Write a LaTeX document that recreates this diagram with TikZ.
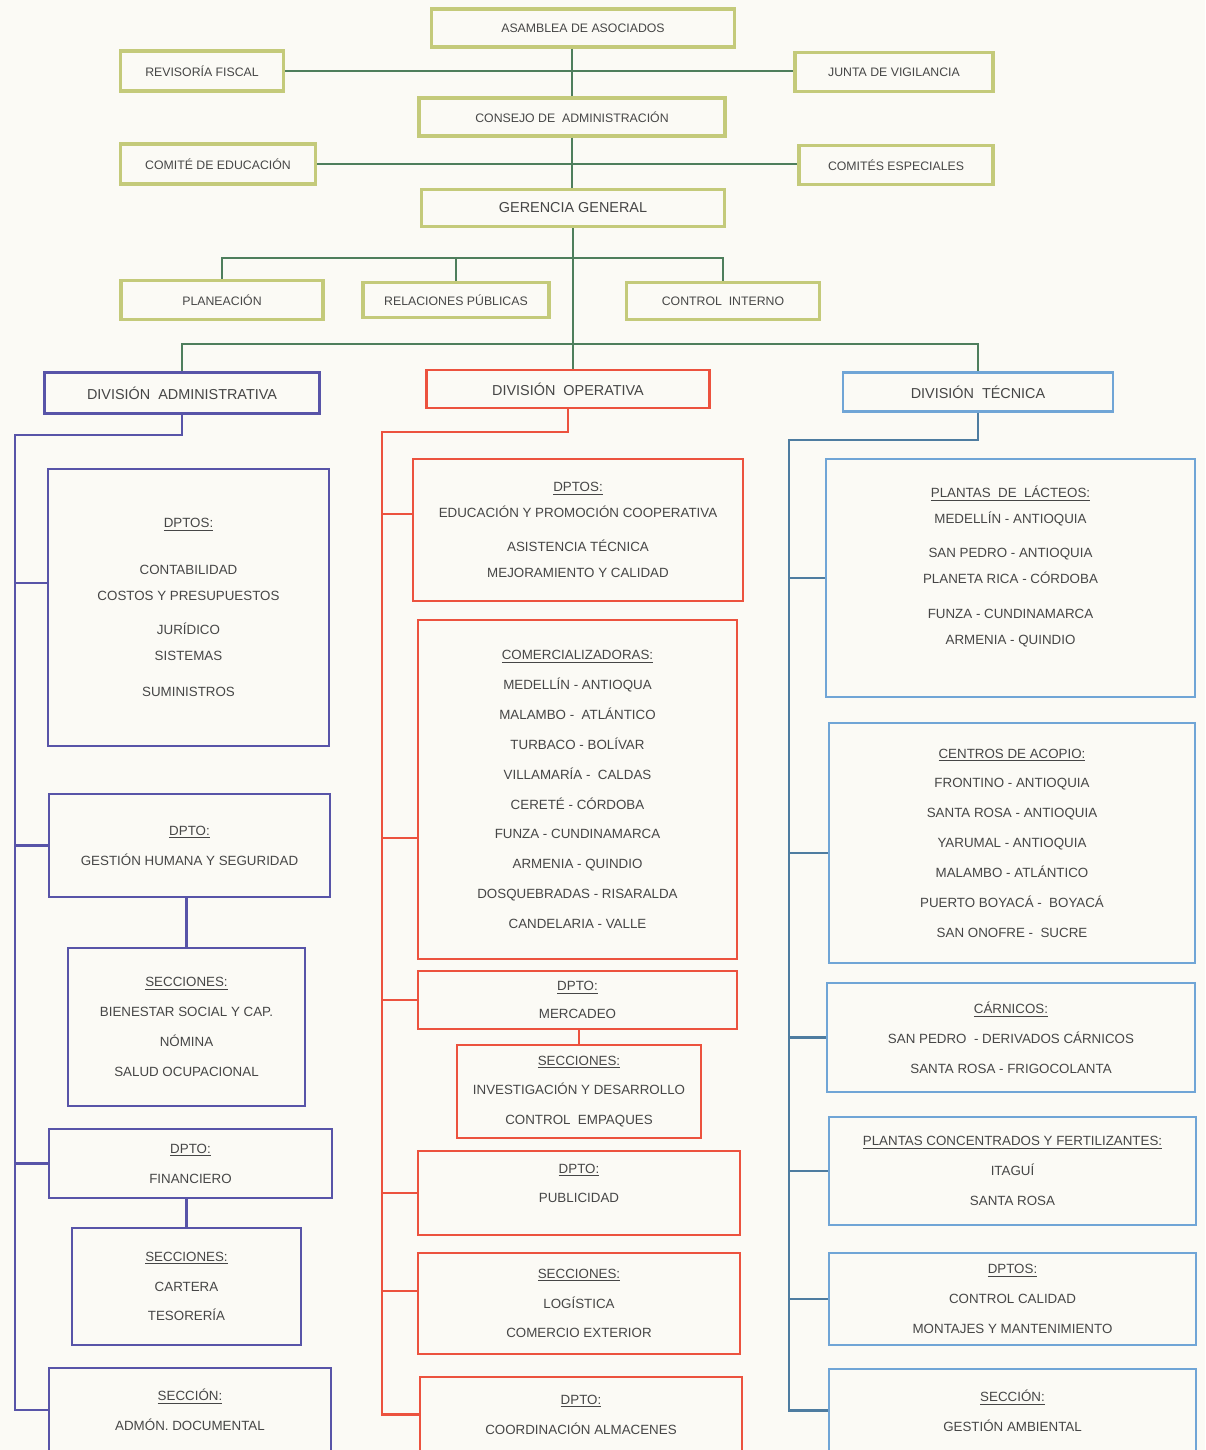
\documentclass[tikz,border=0pt]{standalone}
\usepackage{fontspec}
\setmainfont{Liberation Sans}
\usepackage{tikz}
\usepackage{xcolor}

\definecolor{cPaper}{RGB}{251,250,245}
\definecolor{cText}{RGB}{70,70,70}
\definecolor{cOlive}{RGB}{196,202,122}
\definecolor{cGreen}{RGB}{78,126,92}
\definecolor{cAdm}{RGB}{88,84,168}
\definecolor{cOp}{RGB}{236,82,62}
\definecolor{cTec}{RGB}{112,165,214}
\definecolor{cTecLine}{RGB}{78,124,160}

\begin{document}
\begin{tikzpicture}[x=0.02cm, y=-0.02cm,
    every node/.style={text=cText, align=center, inner sep=0pt},
    topbox/.style={draw=cOlive, line width=1.8pt, font=\fontsize{7}{9}\selectfont},
    divbox/.style={line width=1.6pt, font=\fontsize{8.2}{10}\selectfont},
    admbox/.style={draw=cAdm, line width=1.4pt, font=\fontsize{7.6}{17}\selectfont},
    opbox/.style={draw=cOp, line width=1.4pt, font=\fontsize{7.6}{17}\selectfont},
    tecbox/.style={draw=cTec, line width=1.4pt, font=\fontsize{7.6}{17}\selectfont},
    topline/.style={draw=cGreen, line width=1.3pt},
    admline/.style={draw=cAdm, line width=1.3pt},
    opline/.style={draw=cOp, line width=1.3pt},
    tecline/.style={draw=cTecLine, line width=1.3pt}]
    % page
    \fill[cPaper] (0,0) rectangle (1205,1450);
    \useasboundingbox (0,0) rectangle (1205,1450);
    \clip (0,0) rectangle (1205,1450);

    % Direction
    \node[topbox, minimum width=6.06cm, minimum height=0.76cm] (asamblea) at (583,28) {ASAMBLEA DE ASOCIADOS};
    \node[topbox, minimum width=3.26cm, minimum height=0.8cm] (revisoria) at (202,71) {REVISORÍA FISCAL};
    \node[topbox, minimum width=3.96cm, minimum height=0.78cm] (junta) at (894,72) {JUNTA DE VIGILANCIA};
    \node[topbox, minimum width=6.12cm, minimum height=0.76cm] (consejo) at (572,117) {CONSEJO DE \ ADMINISTRACIÓN};
    \node[topbox, minimum width=3.9cm, minimum height=0.8cm] (comedu) at (218,164) {COMITÉ DE EDUCACIÓN};
    \node[topbox, minimum width=3.88cm, minimum height=0.78cm] (comesp) at (896,165) {COMITÉS ESPECIALES};
    \node[topbox, minimum width=6.06cm, minimum height=0.74cm, font=\fontsize{8.2}{10}\selectfont] (gerencia) at (573,208) {GERENCIA GENERAL};
    \node[topbox, minimum width=4.04cm, minimum height=0.78cm] (planeacion) at (222,300) {PLANEACIÓN};
    \node[topbox, minimum width=3.72cm, minimum height=0.7cm] (relaciones) at (456,300) {RELACIONES PÚBLICAS};
    \node[topbox, minimum width=3.86cm, minimum height=0.74cm] (control) at (723,301) {CONTROL \ INTERNO};

    \draw[topline] (asamblea.south -| consejo.north) -- (consejo.north);
    \draw[topline] (revisoria.east) -- (revisoria.east -| junta.west);
    \draw[topline] (consejo.south) -- (consejo.south |- gerencia.north);
    \draw[topline] (comedu.east) -- (comedu.east -| comesp.west);

    % Divisions
    \node[divbox, draw=cAdm, minimum width=5.5cm, minimum height=0.82cm] (divadm) at (182,393) {DIVISIÓN \ ADMINISTRATIVA};
    \node[divbox, draw=cOp, minimum width=5.66cm, minimum height=0.76cm] (divop) at (568,389) {DIVISIÓN \ OPERATIVA};
    \node[divbox, draw=cTec, minimum width=5.4cm, minimum height=0.78cm] (divtec) at (978,392) {DIVISIÓN \ TÉCNICA};

    \coordinate (planbar) at (573,258);
    \coordinate (divbar) at (573,344);
    \draw[topline] (gerencia.south) -- (gerencia.south |- divop.north);
    \draw[topline] (planeacion.north) |- (control.north |- planbar) -- (control.north);
    \draw[topline] (relaciones.north) -- (relaciones.north |- planbar);
    \draw[topline] (divadm.north) |- (divtec.north |- divbar) -- (divtec.north);

    % Administrativa
    \node[admbox, minimum width=5.62cm, minimum height=5.54cm, font=\fontsize{7.6}{14.7}\selectfont] (adm1) at (188.5,607.5)
        {\underline{DPTOS:}\\[12pt]CONTABILIDAD\\COSTOS Y PRESUPUESTOS\\[5pt]JURÍDICO\\SISTEMAS\\[6pt]SUMINISTROS};
    \node[admbox, minimum width=5.62cm, minimum height=2.06cm] (adm2) at (189.5,845.5) {\underline{DPTO:}\\GESTIÓN HUMANA Y SEGURIDAD};
    \node[admbox, minimum width=4.74cm, minimum height=3.16cm] (adm3) at (186.5,1027) {\underline{SECCIONES:}\\BIENESTAR SOCIAL Y CAP.\\NÓMINA\\SALUD OCUPACIONAL};
    \node[admbox, minimum width=5.66cm, minimum height=1.38cm] (adm4) at (190.5,1163.5) {\underline{DPTO:}\\FINANCIERO};
    \node[admbox, minimum width=4.58cm, minimum height=2.34cm] (adm5) at (186.5,1286.5) {\underline{SECCIONES:}\\CARTERA\\TESORERÍA};
    \node[admbox, minimum width=5.64cm, minimum height=1.68cm] (adm6) at (190,1410) {\underline{SECCIÓN:}\\ADMÓN. DOCUMENTAL};

    \coordinate (admtop) at (15,435);
    \draw[admline] (divadm.south) |- (admtop) |- (adm6.west);
    \draw[admline] ([yshift=0.49cm]adm1.west) -- ([yshift=0.49cm]adm1.west -| admtop);
    \foreach \b in {adm2,adm4}
        \draw[admline] (\b.west) -- (\b.west -| admtop);
    \draw[admline] (adm3.north) -- (adm3.north |- adm2.south);
    \draw[admline] (adm5.north) -- (adm5.north |- adm4.south);

    % Operativa
    \node[opbox, minimum width=6.6cm, minimum height=2.84cm, font=\fontsize{7.6}{14.7}\selectfont] (op1) at (578,530)
        {\underline{DPTOS:}\\EDUCACIÓN Y PROMOCIÓN COOPERATIVA\\[5pt]ASISTENCIA TÉCNICA\\MEJORAMIENTO Y CALIDAD};
    \node[opbox, minimum width=6.38cm, minimum height=6.78cm] (op2) at (577.5,789.5)
        {\underline{COMERCIALIZADORAS:}\\MEDELLÍN - ANTIOQUA\\MALAMBO - \ ATLÁNTICO\\TURBACO - BOLÍVAR\\VILLAMARÍA - \ CALDAS\\CERETÉ - CÓRDOBA\\FUNZA - CUNDINAMARCA\\ARMENIA - QUINDIO\\DOSQUEBRADAS - RISARALDA\\CANDELARIA - VALLE};
    \node[opbox, minimum width=6.38cm, minimum height=1.16cm, font=\fontsize{7.6}{16}\selectfont] (op3) at (577.5,1000) {\underline{DPTO:}\\MERCADEO};
    \node[opbox, minimum width=4.88cm, minimum height=1.86cm] (op4) at (579,1091.5) {\underline{SECCIONES:}\\INVESTIGACIÓN Y DESARROLLO\\CONTROL \ EMPAQUES};
    \node[opbox, minimum width=6.44cm, minimum height=1.68cm] (op5) at (579,1193) {\underline{DPTO:}\\PUBLICIDAD\\[-6pt]\mbox{}};
    \node[opbox, minimum width=6.44cm, minimum height=2.02cm] (op6) at (579,1303.5) {\underline{SECCIONES:}\\LOGÍSTICA\\COMERCIO EXTERIOR};
    \node[opbox, minimum width=6.44cm, minimum height=1.5cm] (op7) at (581,1414.5) {\underline{DPTO:}\\COORDINACIÓN ALMACENES};

    \coordinate (optop) at (382,432);
    \draw[opline] (divop.south) |- (optop) |- (op7.west);
    \draw[opline] ([yshift=0.32cm]op1.west) -- ([yshift=0.32cm]op1.west -| optop);
    \draw[opline] ([yshift=-0.97cm]op2.west) -- ([yshift=-0.97cm]op2.west -| optop);
    \draw[opline] ([yshift=0.25cm]op6.west) -- ([yshift=0.25cm]op6.west -| optop);
    \foreach \b in {op3,op5}
        \draw[opline] (\b.west) -- (\b.west -| optop);
    \draw[opline] (op4.north) -- (op4.north |- op3.south);

    % Tecnica
    \node[tecbox, minimum width=7.38cm, minimum height=4.76cm, font=\fontsize{7.6}{14.7}\selectfont] (tec1) at (1010.5,578)
        {\underline{PLANTAS \ DE \ LÁCTEOS:}\\MEDELLÍN - ANTIOQUIA\\[5pt]SAN PEDRO - ANTIOQUIA\\PLANETA RICA - CÓRDOBA\\[5pt]FUNZA - CUNDINAMARCA\\ARMENIA - QUINDIO\\\mbox{}};
    \node[tecbox, minimum width=7.32cm, minimum height=4.8cm] (tec2) at (1012,843)
        {\underline{CENTROS DE ACOPIO:}\\FRONTINO - ANTIOQUIA\\SANTA ROSA - ANTIOQUIA\\YARUMAL - ANTIOQUIA\\MALAMBO - ATLÁNTICO\\PUERTO BOYACÁ - \ BOYACÁ\\SAN ONOFRE - \ SUCRE};
    \node[tecbox, minimum width=7.36cm, minimum height=2.18cm] (tec3) at (1011,1037.5) {\underline{CÁRNICOS:}\\SAN PEDRO \ - DERIVADOS CÁRNICOS\\SANTA ROSA - FRIGOCOLANTA};
    \node[tecbox, minimum width=7.34cm, minimum height=2.16cm] (tec4) at (1012.5,1171) {\underline{PLANTAS CONCENTRADOS Y FERTILIZANTES:}\\ITAGUÍ\\SANTA ROSA};
    \node[tecbox, minimum width=7.34cm, minimum height=1.84cm] (tec5) at (1012.5,1299) {\underline{DPTOS:}\\CONTROL CALIDAD\\MONTAJES Y MANTENIMIENTO};
    \node[tecbox, minimum width=7.34cm, minimum height=1.66cm] (tec6) at (1012.5,1410.5) {\underline{SECCIÓN:}\\GESTIÓN AMBIENTAL};

    \coordinate (tectop) at (789,440);
    \draw[tecline] (divtec.south) |- (tectop) |- (tec6.west);
    \draw[tecline] ([yshift=-0.2cm]tec2.west) -- ([yshift=-0.2cm]tec2.west -| tectop);
    \foreach \b in {tec1,tec3,tec4,tec5}
        \draw[tecline] (\b.west) -- (\b.west -| tectop);
\end{tikzpicture}
\end{document}
